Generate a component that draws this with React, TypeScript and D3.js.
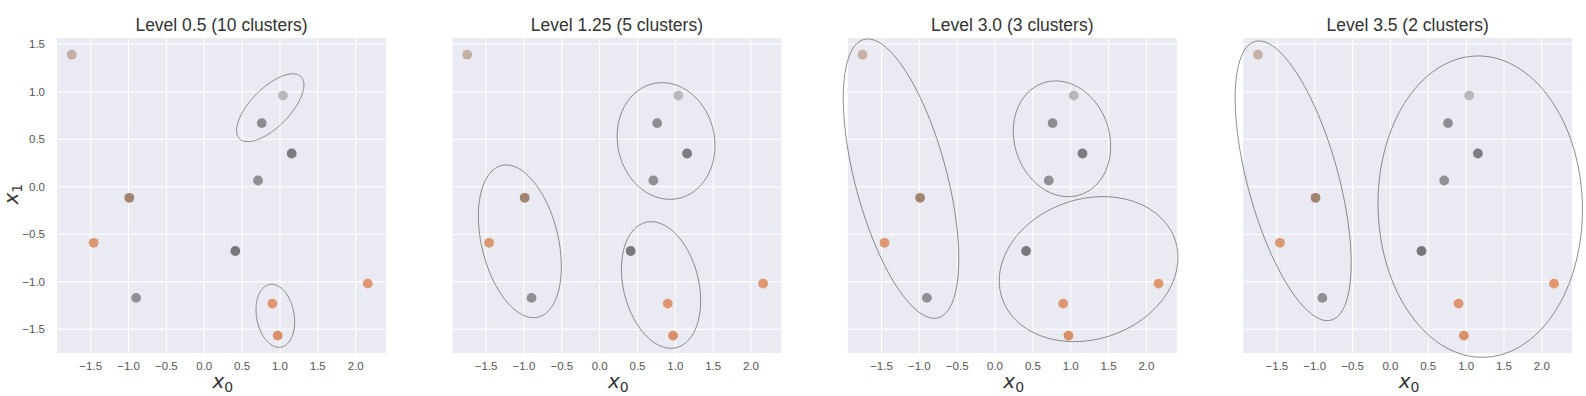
import * as d3 from "d3";

// points (same in every panel)
const x0 = [-1.75, 1.04, 0.76, 1.155, 0.71, -0.99, -1.46, 0.41, -0.9, 0.9, 0.97, 2.16];
const x1 = [1.39, 0.96, 0.67, 0.35, 0.066, -0.116, -0.59, -0.676, -1.17, -1.23, -1.567, -1.02];
const pointColors = ["#c6b0a6", "#b8b9bd", "#8b8d92", "#7a7c81", "#8f9196", "#a0846f", "#dc9872", "#76787d", "#8e9095", "#df9670", "#d98f69", "#e0976f"];

const levels = ["0.5", "1.25", "3.0", "3.5"];
const clusterCounts = [10, 5, 3, 2];

// ellipses per level: centre, half width, half height, tilt (cos of phase)
const ellCx = [[0.872, 0.939], [0.877, -1.054, 0.811], [-1.242, 0.884, 1.236], [-1.285, 1.186]];
const ellCy = [[0.832, -1.358], [0.482, -0.574, -1.034], [0.086, 0.505, -0.867], [0.063, -0.209]];
const ellHw = [[0.445, 0.255], [0.646, 0.548, 0.523], [0.763, 0.643, 1.18], [0.766, 1.35]];
const ellHh = [[0.357, 0.332], [0.614, 0.804, 0.666], [1.47, 0.609, 0.763], [1.472, 1.586]];
const ellRho = [[0.67, -0.19], [-0.08, -0.33, -0.25], [-0.575, -0.13, 0.16], [-0.59, -0.02]];

const xTicks = [-1.5, -1.0, -0.5, 0.0, 0.5, 1.0, 1.5, 2.0];
const yTicks = [1.5, 1.0, 0.5, 0.0, -0.5, -1.0, -1.5];

const W = 1586, H = 396;
const plotW = 329, plotTop = 38, plotBottom = 353;
const panelLeft = [57, 452.4, 847.8, 1243.2];

const fmt = (v: number) => (v < 0 ? "\u2212" : "") + Math.abs(v).toFixed(1);

function Panel({ idx }: { idx: number }) {
  const left = panelLeft[idx];
  const x = d3.scaleLinear().domain([-1.945, 2.401]).range([left, left + plotW]);
  const y = d3.scaleLinear().domain([-1.75, 1.566]).range([plotBottom, plotTop]);
  const line = d3.line<[number, number]>().x(d => x(d[0])).y(d => y(d[1])).curve(d3.curveLinearClosed);

  const ellipses = ellCx[idx].map((cx, i) => {
    const phi = Math.acos(ellRho[idx][i]);
    const pts: [number, number][] = d3.range(0, 2 * Math.PI, Math.PI / 90).map(t => [
      cx + ellHw[idx][i] * Math.cos(t),
      ellCy[idx][i] + ellHh[idx][i] * Math.cos(t + phi),
    ]);
    return line(pts) as string;
  });

  const cxMid = left + plotW / 2;
  return (
    <g>
      <rect x={left} y={plotTop} width={plotW} height={plotBottom - plotTop} fill="#eaeaf2" />
      {xTicks.map(t => (
        <line key={"gx" + t} x1={x(t)} x2={x(t)} y1={plotTop} y2={plotBottom} stroke="#fff" strokeWidth={1} />
      ))}
      {yTicks.map(t => (
        <line key={"gy" + t} x1={left} x2={left + plotW} y1={y(t)} y2={y(t)} stroke="#fff" strokeWidth={1} />
      ))}
      {x0.map((v, i) => (
        <circle key={"p" + i} cx={x(v)} cy={y(x1[i])} r={4.9} fill={pointColors[i]} />
      ))}
      {ellipses.map((d, i) => (
        <path key={"e" + i} d={d} fill="none" stroke="#6e6e6e" strokeWidth={0.8} />
      ))}
      {xTicks.map(t => (
        <text key={"tx" + t} x={x(t)} y={370} textAnchor="middle" fontSize={11.5} fill="#555">{fmt(t)}</text>
      ))}
      {idx === 0 && yTicks.map(t => (
        <text key={"ty" + t} x={left - 12} y={y(t) + 4} textAnchor="end" fontSize={11.5} fill="#555">{fmt(t)}</text>
      ))}
      <text x={cxMid} y={31} textAnchor="middle" fontSize={17.5} fill="#333">
        {`Level ${levels[idx]} (${clusterCounts[idx]} clusters)`}
      </text>
      <text x={cxMid - 9} y={388} fontSize={20} fill="#333" fontFamily="DejaVu Sans">
        <tspan fontStyle="italic">x</tspan>
        <tspan fontSize={14} dy={4}>0</tspan>
      </text>
      {idx === 0 && (
        <text transform={`translate(18, ${(plotTop + plotBottom) / 2 + 9}) rotate(-90)`} fontSize={20} fill="#333" fontFamily="DejaVu Sans">
          <tspan fontStyle="italic">x</tspan>
          <tspan fontSize={14} dy={4}>1</tspan>
        </text>
      )}
    </g>
  );
}

export default function App() {
  return (
    <svg width={W} height={H} style={{ position: "absolute", left: 0, top: 0, background: "#fff" }}
      fontFamily="'Liberation Sans', Arial, sans-serif">
      {levels.map((_, i) => <Panel key={i} idx={i} />)}
    </svg>
  );
}
